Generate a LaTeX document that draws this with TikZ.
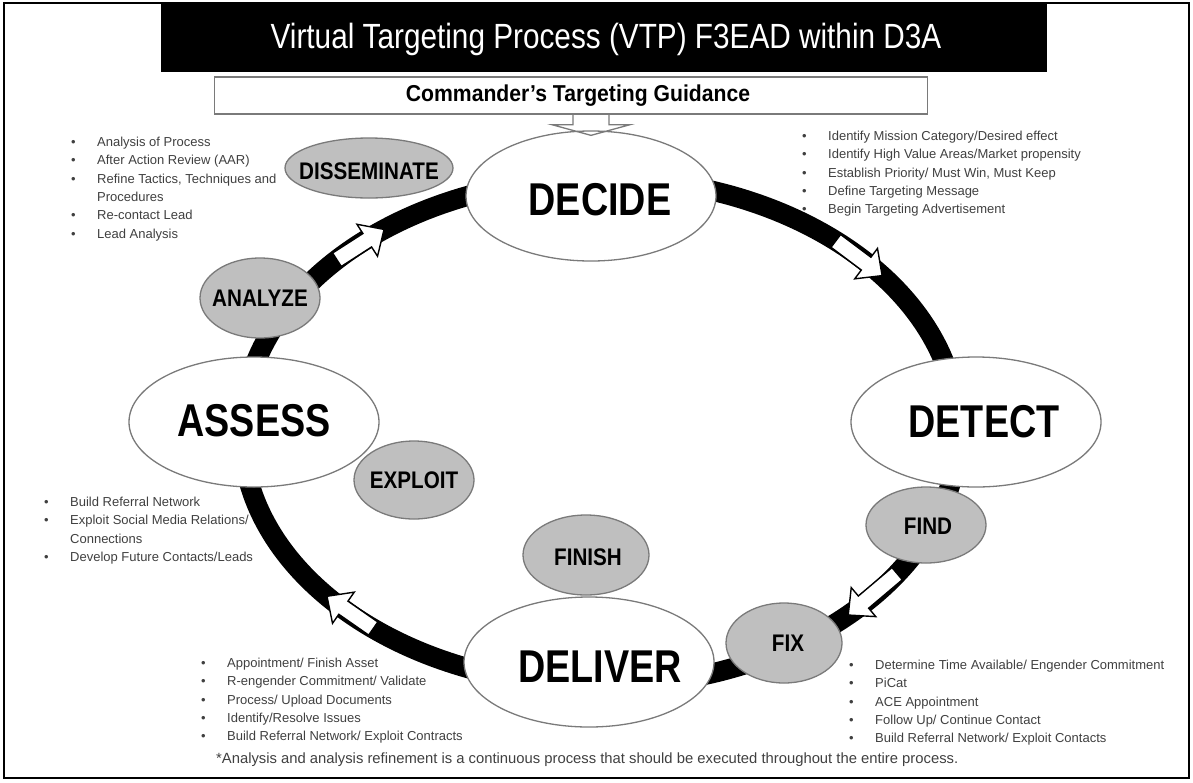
\documentclass[tikz,border=0pt]{standalone}
\usepackage{fontspec}
\setmainfont{Liberation Sans}
\newfontfamily\titlefont{Liberation Sans}[FakeStretch=0.85]
\newfontfamily\cmdfont{Liberation Sans}[FakeStretch=0.92]
\newfontfamily\bigfont{Liberation Sans}[FakeStretch=0.82]
\newfontfamily\smallfont{Liberation Sans}[FakeStretch=0.86]
\usetikzlibrary{shapes.geometric,calc}
\definecolor{listgray}{HTML}{404040}
\definecolor{phasefill}{HTML}{BFBFBF}
\definecolor{outlinegray}{HTML}{7A7A7A}
\newcommand\bitem[1]{\makebox[26pt][l]{\textbullet}#1}
\newcommand\bcont[1]{\makebox[26pt][l]{}#1}
\newcommand\ringarrow[2]{%
  \coordinate (hb) at ($(#2)!20pt!(#1)$);
  \draw[blockarrow] ($(#1)!8pt!90:(#2)$) -- ($(hb)!8pt!-90:(#1)$) -- ($(hb)!19pt!-90:(#1)$) -- (#2)
     -- ($(hb)!19pt!90:(#1)$) -- ($(hb)!8pt!90:(#1)$) -- ($(#1)!8pt!-90:(#2)$) -- cycle;}
\tikzset{
  bigoval/.style={ellipse, draw=outlinegray, line width=1.3pt, fill=white, minimum width=250pt, minimum height=130pt, inner sep=0pt},
  smalloval/.style={ellipse, draw=outlinegray, line width=1.3pt, fill=phasefill, inner sep=0pt},
  bigtext/.style={font=\bigfont\bfseries\fontsize{46}{46}\selectfont, inner sep=0pt},
  smalltext/.style={font=\smallfont\bfseries\fontsize{24}{24}\selectfont, inner sep=0pt},
  listtext/.style={font=\fontsize{13}{18.3}\selectfont, text=listgray, align=left, anchor=north west, inner sep=0pt},
  ringline/.style={line width=20pt, draw=black},
  blockarrow/.style={draw=black, line width=1.4pt, fill=white, line join=miter},
  cmdarrow/.style={draw=outlinegray, line width=1.3pt, line join=miter},
}
\begin{document}
\begin{tikzpicture}[x=1pt,y=-1pt]
\useasboundingbox (0,0) rectangle (1193,782);
\fill[white] (0,0) rectangle (1193,782);
% frame and title
\draw[line width=2.5pt] (4,3) rectangle (1189,778);
\node[fill=black, minimum width=886pt, minimum height=70pt, inner sep=0pt] (titlebar) at (604,37) {};
\node[font=\titlefont\fontsize{35}{35}\selectfont, text=white, inner sep=0pt] (titletext) at (606,39) {Virtual Targeting Process (VTP) F3EAD within D3A};
\node[draw=outlinegray, line width=1.4pt, fill=white, minimum width=713pt, minimum height=37pt, inner sep=0pt] (cmd) at (571,95.5) {};
\node[font=\cmdfont\bfseries\fontsize{23}{23}\selectfont, inner sep=0pt] (cmdtext) at (578,96) {Commander’s Targeting Guidance};
% lists
\node[listtext] (ltl) at (71,137) {\bitem{Analysis of Process}\\ \bitem{After Action Review (AAR)}\\ \bitem{Refine Tactics, Techniques and}\\ \bcont{Procedures}\\ \bitem{Re-contact Lead}\\ \bitem{Lead Analysis}};
\node[listtext] (ltr) at (802,131) {\bitem{Identify Mission Category/Desired effect}\\ \bitem{Identify High Value Areas/Market propensity}\\ \bitem{Establish Priority/ Must Win, Must Keep}\\ \bitem{Define Targeting Message}\\ \bitem{Begin Targeting Advertisement}};
\node[listtext] (llm) at (44,497) {\bitem{Build Referral Network}\\ \bitem{Exploit Social Media Relations/}\\ \bcont{Connections}\\ \bitem{Develop Future Contacts/Leads}};
\node[listtext] (lbl) at (201,658) {\bitem{Appointment/ Finish Asset}\\ \bitem{R-engender Commitment/ Validate}\\ \bitem{Process/ Upload Documents}\\ \bitem{Identify/Resolve Issues}\\ \bitem{Build Referral Network/ Exploit Contracts}};
\node[listtext] (lbr) at (849,660) {\bitem{Determine Time Available/ Engender Commitment}\\ \bitem{PiCat}\\ \bitem{ACE Appointment}\\ \bitem{Follow Up/ Continue Contact}\\ \bitem{Build Referral Network/ Exploit Contacts}};
\node[font=\fontsize{14.8}{16}\selectfont, text=listgray, anchor=west, inner sep=0pt] (foot) at (216,760) {*Analysis and analysis refinement is a continuous process that should be executed throughout the entire process.};
% ring
\coordinate (ringc) at (600,432);
\draw[ringline] (ringc) ellipse [x radius=358pt, y radius=254pt];
% ring arrows
\coordinate (a1t) at ({600+358*cos(137.3)},{432-254*sin(137.3)});
\coordinate (a1h) at ({600+358*cos(127.1)},{432-254*sin(127.1)});
\coordinate (a2t) at ({600+358*cos(48.8)},{432-254*sin(48.8)});
\coordinate (a2h) at ({600+358*cos(38.0)},{432-254*sin(38.0)});
\coordinate (a3t) at ({600+358*cos(-33.9)},{432-254*sin(-33.9)});
\coordinate (a3h) at ({600+358*cos(-46.1)},{432-254*sin(-46.1)});
\coordinate (a4t) at ({600+358*cos(-129.3)},{432-254*sin(-129.3)});
\coordinate (a4h) at ({600+358*cos(-139.7)},{432-254*sin(-139.7)});
\ringarrow{a1t}{a1h}
\ringarrow{a2t}{a2h}
\ringarrow{a3t}{a3h}
\ringarrow{a4t}{a4h}
% phases
\node[bigoval] (dec) at (591,196) {};
\node[bigtext] (dect) at (600,200) {DECIDE};
\node[bigoval] (det) at (976,422) {};
\node[bigtext] (dett) at (984,422) {DETECT};
\node[bigoval] (del) at (589,662) {};
\node[bigtext] (delt) at (600,667) {DELIVER};
\node[bigoval] (ass) at (254,422) {};
\node[bigtext] (asst) at (254,421) {ASSESS};
\node[smalloval, minimum width=168pt, minimum height=60pt] (dis) at (369,168) {};
\node[smalltext] (dist) at (369,171) {DISSEMINATE};
\node[smalloval, minimum width=120pt, minimum height=80pt] (ana) at (260,298) {};
\node[smalltext] (anat) at (260,298) {ANALYZE};
\node[smalloval, minimum width=120pt, minimum height=78pt] (exp) at (414,480) {};
\node[smalltext] (expt) at (414,480) {EXPLOIT};
\node[smalloval, minimum width=126pt, minimum height=80pt] (fin) at (586,555) {};
\node[smalltext] (fint) at (588,557) {FINISH};
\node[smalloval, minimum width=120pt, minimum height=76pt] (find) at (926,525) {};
\node[smalltext] (findt) at (928,526) {FIND};
\node[smalloval, minimum width=116pt, minimum height=80pt] (fix) at (784,643) {};
\node[smalltext] (fixt) at (788,643) {FIX};
% commander arrow
\coordinate (cat) at (dec.north |- cmd.south);
\draw[cmdarrow] ($(cat)+(-18,0)$) -- ++(0,10) -- ++(-21,0) -- ($(dec.north)+(0,5)$) -- ($(cat)+(39,10)$) -- ++(-21,0) -- ++(0,-10);
\end{tikzpicture}
\end{document}
